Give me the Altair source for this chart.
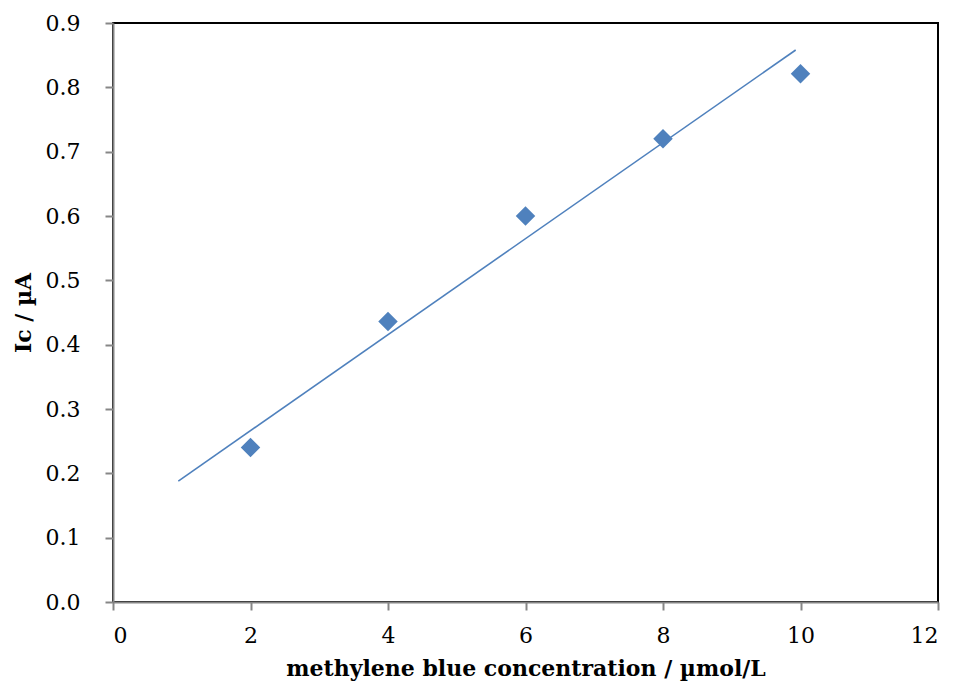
import altair as alt
import pandas as pd

conc = [2, 4, 6, 8, 10]
current = [0.240, 0.436, 0.600, 0.720, 0.821]

trend_x = [0.95, 9.93]
trend_y = [0.188, 0.858]

pts = pd.DataFrame({"x": conc, "y": current})
trend = pd.DataFrame({"x": trend_x, "y": trend_y})

FONT = "DejaVu Serif"
BLUE = "#4F81BD"

xscale = alt.Scale(domain=[0, 12], nice=False, zero=False)
yscale = alt.Scale(domain=[0, 0.9], nice=False, zero=False)

xaxis = alt.Axis(values=[0, 2, 4, 6, 8, 10, 12], format="d", grid=False,
                 title="methylene blue concentration / \u00b5mol/L",
                 domainColor="#868686", domainWidth=2, tickColor="#868686", tickWidth=2,
                 tickSize=8, labelPadding=15, labelFont=FONT, labelFontSize=22,
                 labelColor="black", titleFont=FONT, titleFontSize=22, titleFontWeight="bold",
                 titleColor="black", titlePadding=12, zindex=1)
yaxis = alt.Axis(values=[0, 0.1, 0.2, 0.3, 0.4, 0.5, 0.6, 0.7, 0.8, 0.9], format=".1f", grid=False,
                 title="Ic / \u00b5A",
                 domainColor="#868686", domainWidth=2, tickColor="#868686", tickWidth=2,
                 tickSize=8, labelPadding=25, labelFont=FONT, labelFontSize=22,
                 labelColor="black", titleFont=FONT, titleFontSize=22, titleFontWeight="bold",
                 titleColor="black", titlePadding=10, zindex=1)

line = alt.Chart(trend).mark_line(color=BLUE, strokeWidth=1.6).encode(
    x=alt.X("x:Q", scale=xscale, axis=xaxis),
    y=alt.Y("y:Q", scale=yscale, axis=yaxis),
)

points = alt.Chart(pts).mark_point(shape="diamond", filled=True, color=BLUE, size=380, opacity=1).encode(
    x=alt.X("x:Q", scale=xscale),
    y=alt.Y("y:Q", scale=yscale),
)

chart = alt.layer(line, points).properties(
    width=825, height=579,
    autosize=alt.AutoSizeParams(type="none"),
    padding={"left": 105, "top": 15, "right": 9, "bottom": 81},
    background="white",
).configure_view(stroke="black", strokeWidth=2)

chart.save("out.html", embed_options={"renderer": "svg", "actions": False})
